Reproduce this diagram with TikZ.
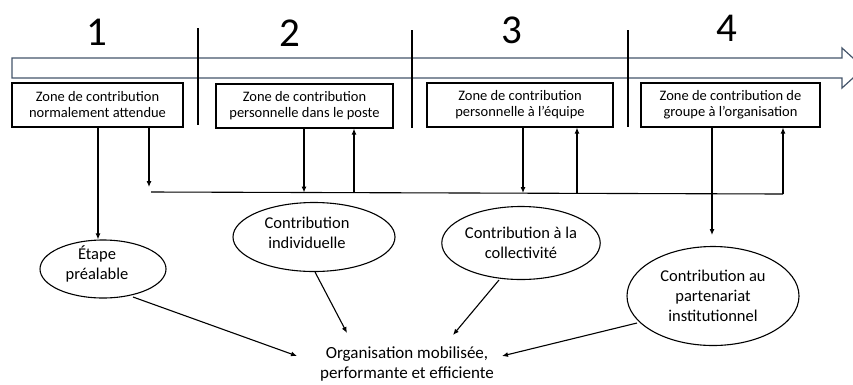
\documentclass[tikz,border=0pt]{standalone}
\usepackage{fontspec}
\setmainfont{Carlito}
\usetikzlibrary{arrows.meta,shapes.geometric}
\definecolor{bandline}{HTML}{44546A}
\tikzset{
  zonebox/.style={draw=black, line width=1.1pt, minimum width=#1, minimum height=44pt,
    align=center, font=\fontsize{14.5}{16}\selectfont, inner sep=0pt},
  bubble/.style={draw=black, line width=1.1pt, ellipse, inner sep=0pt, align=center,
    font=\fontsize{16.5}{20}\selectfont},
  bubbletext/.style={align=center, font=\fontsize{16.5}{20}\selectfont, inner sep=0pt},
  phase/.style={font=\fontsize{41}{41}\selectfont, inner sep=0pt},
  divider/.style={draw=black, line width=1.1pt},
  link/.style={draw=black, line width=1.1pt, -{Latex[length=6pt,width=5pt]}},
  plain/.style={draw=black, line width=1.1pt},
}
\begin{document}
\begin{tikzpicture}[x=1pt,y=-1pt]
\useasboundingbox (0,0) rectangle (853,384);
% timeline band with its open arrow head
\begin{scope}
\clip (0,0) rectangle (853,384);
\draw[bandline, line width=1.2pt, line join=miter]
  (12,58) -- (842,58) -- (842,48) -- (864,68) -- (842,88) -- (842,78) -- (12,78) -- cycle;
\end{scope}
% phase numbers
\node[phase] (n1) at (97,32) {1};
\node[phase] (n2) at (290,33) {2};
\node[phase] (n3) at (512,30) {3};
\node[phase] (n4) at (727,28) {4};
% phase dividers
\coordinate (d1t) at (198,28); \coordinate (d1b) at (198,125);
\coordinate (d2t) at (412,30); \coordinate (d2b) at (412,128);
\coordinate (d3t) at (628,30); \coordinate (d3b) at (628,127);
\draw[divider] (d1t) -- (d1b);
\draw[divider] (d2t) -- (d2b);
\draw[divider] (d3t) -- (d3b);
% zone boxes
\node[zonebox=171pt, fill=white] (z1) at (97.5,105) {Zone de contribution\\normalement attendue};
\node[zonebox=177pt, fill=white] (z2) at (304.5,106) {Zone de contribution\\personnelle dans le poste};
\node[zonebox=186pt, fill=white] (z3) at (520,105) {Zone de contribution\\personnelle à l’équipe};
\node[zonebox=179pt, fill=white] (z4) at (730.5,105) {Zone de contribution de\\groupe à l’organisation};
% contributions
\node[bubble, minimum width=126pt, minimum height=58pt,
  label={[bubbletext, yshift=5pt, xshift=-6pt]center:Étape\\préalable}] (e1) at (103,269) {};
\node[bubble, minimum width=162pt, minimum height=69pt,
  label={[bubbletext, yshift=4pt, xshift=-7pt]center:Contribution\\individuelle}] (e2) at (314,237) {};
\node[bubble, minimum width=158pt, minimum height=73pt] (e3) at (521,243) {Contribution à la\\collectivité};
\node[bubble, minimum width=172pt, minimum height=99pt] (e4) at (713,296) {Contribution au\\partenariat\\institutionnel};
% result
\node[align=center, font=\fontsize{17}{19.5}\selectfont, inner sep=0pt] (org) at (407,364) {Organisation mobilisée,\\performante et efficiente};
% shared feedback bus
\coordinate (busL) at (151,192);
\coordinate (busR) at (783,194);
\coordinate (b1) at (149,187);
\draw[plain] (busL) -- (busR);
% box 1
\draw[link] (z1.south -| 98,0) -- (e1.north -| 98,0);
\draw[link] (z1.south -| b1) -- (b1);
% box 2
\draw[link] (z2.south -| 304,0) -- (304,192.5);
\draw[link] (354,193) -- (z2.south -| 354,0);
% box 3
\draw[link] (z3.south -| 523,0) -- (523,193);
\draw[link] (577,193.5) -- (z3.south -| 577,0);
% box 4
\draw[link] (busR) -- (z4.south -| busR);
\draw[link] (z4.south -| 712,0) -- (712,235);
% towards the result
\coordinate (t1) at (297,356);
\coordinate (t2) at (347,333);
\coordinate (t3) at (453,335);
\coordinate (t4) at (502,356);
\draw[link] (133,297) -- (t1);
\draw[link] (315,272) -- (t2);
\draw[link] (499,280) -- (t3);
\draw[link] (637,323) -- (t4);
\end{tikzpicture}
\end{document}
